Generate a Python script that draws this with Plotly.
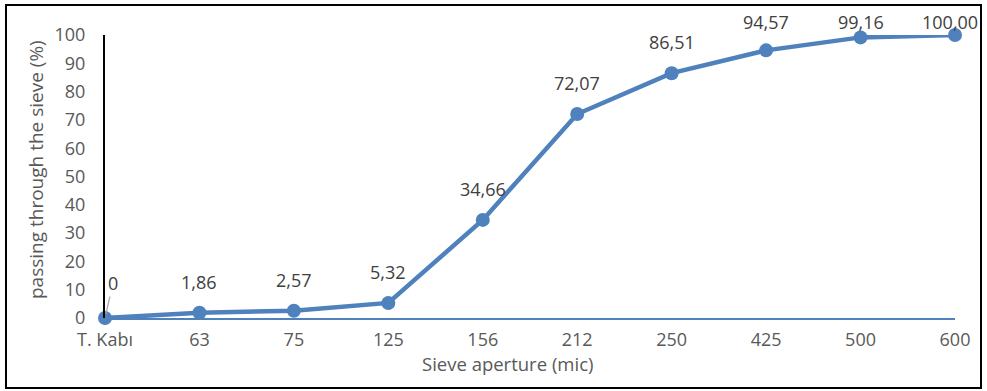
import plotly.graph_objects as go

categories = ["T. Kabı", "63", "75", "125", "156", "212", "250", "425", "500", "600"]
values = [0, 1.86, 2.57, 5.32, 34.66, 72.07, 86.51, 94.57, 99.16, 100.00]
value_labels = ["0", "1,86", "2,57", "5,32", "34,66", "72,07", "86,51", "94,57", "99,16", "100,00"]
y_ticks = list(range(0, 101, 10))

FONT = "Open Sans"
BLUE = "#4F81BD"

fig = go.Figure()
fig.add_trace(go.Scatter(
    x=list(range(len(categories))), y=values, mode="lines+markers",
    line=dict(color=BLUE, width=4.5), marker=dict(size=14, color=BLUE),
    cliponaxis=False, hoverinfo="skip", showlegend=False,
))

annotations = []
n = len(values)
for i, (v, lab) in enumerate(zip(values, value_labels)):
    if i == 0:
        annotations.append(dict(
            x=i, y=v, xref="x", yref="y", text=lab, showarrow=True,
            arrowhead=0, arrowwidth=1.2, arrowcolor="#A6A6A6", ax=8, ay=-35,
            standoff=4, font=dict(family=FONT, size=18, color="#404040"),
        ))
    else:
        annotations.append(dict(
            x=i, y=min(v + 11, 104.6) / 100, xref="x", yref="paper", text=lab,
            xanchor="center", yanchor="middle", xshift=-5 if i == n - 1 else 0,
            showarrow=False, font=dict(family=FONT, size=18, color="#404040"),
        ))

annotations.append(dict(
    x=(507 - 105) / 850, y=(318 - 363) / 283, xref="paper", yref="paper",
    xanchor="center", yanchor="middle",
    text="Sieve aperture (mic)", showarrow=False,
    font=dict(family=FONT, size=18.5, color="#595959"),
))
annotations.append(dict(
    x=(36 - 105) / 850, y=(318 - 170) / 283, xref="paper", yref="paper",
    xanchor="center", yanchor="middle",
    text="passing through the sieve (%)", showarrow=False, textangle=-90,
    font=dict(family=FONT, size=19, color="#595959"),
))

fig.update_layout(
    width=987, height=391,
    margin=dict(l=105, r=32, t=35, b=73),
    paper_bgcolor="white", plot_bgcolor="white",
    font=dict(family=FONT, size=18, color="#595959"),
    annotations=annotations,
    shapes=[dict(
        type="rect", xref="paper", yref="paper",
        x0=(6 - 105) / 850, x1=(981 - 105) / 850,
        y0=(318 - 388) / 283, y1=(318 - 5) / 283,
        line=dict(color="black", width=2), fillcolor="rgba(0,0,0,0)", layer="below",
    )],
    xaxis=dict(
        range=[0, len(categories) - 1], tickmode="array",
        tickvals=list(range(len(categories))), ticktext=categories,
        showgrid=False, zeroline=False, showline=True, linecolor=BLUE, linewidth=1.5,
        ticks="outside", ticklen=5, tickcolor="rgba(0,0,0,0)",
        tickfont=dict(family=FONT, size=18, color="#595959"),
    ),
    yaxis=dict(
        range=[0, 100], tickmode="array", tickvals=y_ticks,
        showgrid=False, zeroline=False, showline=True, linecolor="black", linewidth=2,
        ticks="outside", ticklen=14, tickcolor="rgba(0,0,0,0)",
        tickfont=dict(family=FONT, size=18, color="#595959"),
    ),
)

fig.write_html("out.html", config={"displayModeBar": False},
               post_script="document.body.style.margin='0';")
